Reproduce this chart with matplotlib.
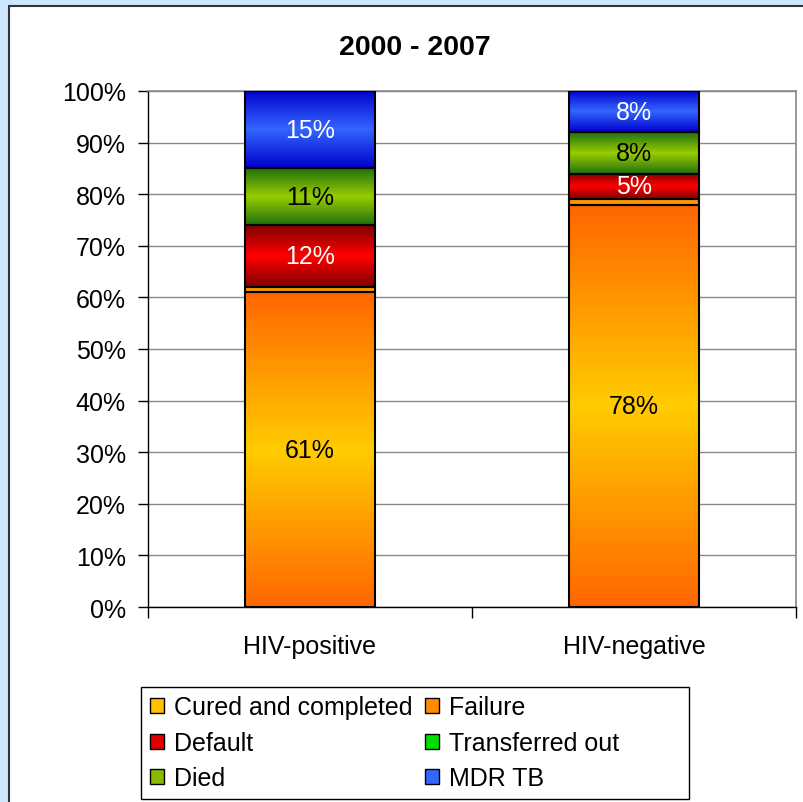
import numpy as np
import matplotlib
matplotlib.use("Agg")
import matplotlib.pyplot as plt
from matplotlib.colors import LinearSegmentedColormap
from matplotlib.patches import Patch, Rectangle

plt.rcParams["font.family"] = ["Liberation Sans", "DejaVu Sans"]

# ── Data ───────────────────────────────────────────────────────────────
groups = ["HIV-positive", "HIV-negative"]
series = ["Cured and completed", "Failure", "Default",
          "Transferred out", "Died", "MDR TB"]
cured = [61, 78]
failure = [1, 1]
default = [12, 5]
transferred = [0, 0]
died = [11, 8]
mdr = [15, 8]
values = [cured, failure, default, transferred, died, mdr]
show_label = [True, False, True, False, True, True]

# (edge colour, centre colour, label colour) for the vertical gradient
STYLE = {
    "Cured and completed": ("#ff6600", "#ffcc00", "black"),
    "Failure":             ("#ff9900", "#ff9900", "black"),
    "Default":             ("#800000", "#ff0000", "white"),
    "Transferred out":     ("#00a000", "#33ff33", "black"),
    "Died":                ("#207010", "#99cc00", "black"),
    "MDR TB":              ("#0000cc", "#3366ff", "white"),
}
LEGEND_FACE = {
    "Cured and completed": "#ffc000",
    "Failure":             "#ff8c00",
    "Default":             "#e00000",
    "Transferred out":     "#00dd00",
    "Died":                "#88bb00",
    "MDR TB":              "#3366ff",
}
FS = 18

W, H = 804, 803
fig = plt.figure(figsize=(W / 100, H / 100), dpi=100, facecolor="#cce8ff")
fig.patches.append(Rectangle((9 / W, -0.01), 1.0, 1 - 7 / H + 0.01,
                             transform=fig.transFigure, facecolor="white",
                             edgecolor="#333333", lw=1.5, zorder=-5))

ax = fig.add_axes([148 / W, 1 - 608 / H, 648 / W, 516 / H], zorder=2)
ax.set_xlim(-0.5, 1.5)
ax.set_ylim(0, 100)

x = np.arange(len(groups))
bottom = np.zeros(len(groups))
grad = np.linspace(-1, 1, 256).reshape(-1, 1)
grad = 1 - np.abs(grad)          # 0 at edges, 1 in the middle

for name, vals, lab in zip(series, values, show_label):
    edge_c, mid_c, txt_c = STYLE[name]
    vals = np.asarray(vals, dtype=float)
    bars = ax.bar(x, vals, 0.4, bottom=bottom, facecolor=mid_c,
                  edgecolor="black", lw=1.5, zorder=3)
    cmap = LinearSegmentedColormap.from_list(name, [edge_c, mid_c])
    for b, v in zip(bars, vals):
        if v <= 0:
            continue
        x0, y0 = b.get_x(), b.get_y()
        im = ax.imshow(grad, cmap=cmap, aspect="auto", vmin=0, vmax=1,
                       extent=[x0, x0 + b.get_width(), y0, y0 + v],
                       origin="lower", zorder=3.5)
        im.set_clip_path(b)
        b.set_zorder(4)
        b.set_facecolor("none")
        if lab:
            ax.text(b.get_x() + b.get_width() / 2, y0 + v / 2, f"{v:.0f}%",
                    ha="center", va="center", fontsize=FS, color=txt_c,
                    zorder=5)
    bottom += vals

# ── Axes styling ───────────────────────────────────────────────────────
ax.set_yticks(np.arange(0, 101, 10))
ax.set_yticklabels([f"{t}%" for t in range(0, 101, 10)], fontsize=FS)
ax.yaxis.grid(True, color="#888888", lw=1)
ax.set_axisbelow(True)
ax.set_xticks([-0.5, 0.5, 1.5])
ax.set_xticklabels([])
ax.tick_params(axis="y", length=7, width=1, direction="out", pad=9)
ax.tick_params(axis="x", length=8, width=1, direction="out")
for g, xi in zip(groups, x):
    ax.text(xi, -5.3, g, ha="center", va="top", fontsize=FS)
for s in ("top", "right"):
    ax.spines[s].set_color("#888888")
    ax.spines[s].set_linewidth(1.2)
for s in ("left", "bottom"):
    ax.spines[s].set_color("black")
    ax.spines[s].set_linewidth(1)

fig.text(415 / W, 1 - 48 / H, "2000 - 2007", ha="center", va="center",
         fontsize=20.5, fontweight="bold")

# ── Legend (row-major order in two columns), frame drawn separately ───
handles = {n: Patch(facecolor=LEGEND_FACE[n], edgecolor="black", lw=1)
           for n in series}
order = ["Cured and completed", "Default", "Died",
         "Failure", "Transferred out", "MDR TB"]
leg = fig.legend([handles[n] for n in order], order, ncol=2,
                 loc="upper left", bbox_to_anchor=(148 / W, 1 - 694 / H),
                 fontsize=FS, frameon=False,
                 handlelength=0.55, handleheight=0.55, handletextpad=0.4,
                 columnspacing=0.5, labelspacing=0.46, borderpad=0.1,
                 borderaxespad=0)
fig.patches.append(Rectangle((141 / W, 1 - 800 / H), 548 / W, 112 / H,
                             transform=fig.transFigure, facecolor="white",
                             edgecolor="black", lw=1, zorder=1))

fig.savefig("out.png", dpi=100, facecolor=fig.get_facecolor())
